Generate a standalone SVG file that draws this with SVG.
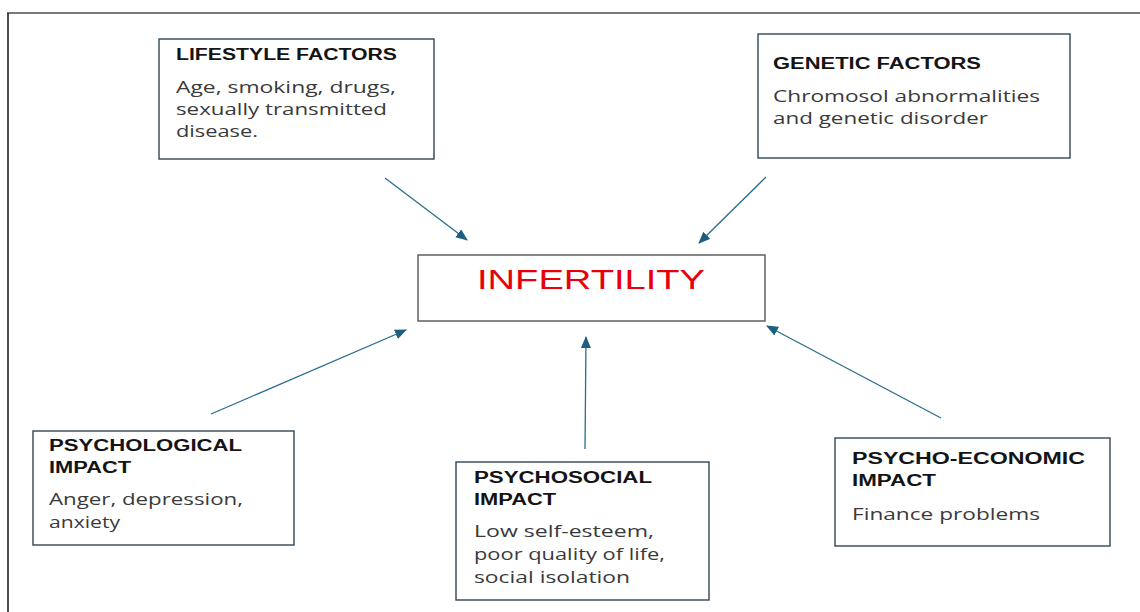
<svg xmlns="http://www.w3.org/2000/svg" width="1140" height="612" viewBox="0 0 1140 612">
<style>
.box{fill:#fff;stroke:#2f4756;stroke-width:1.4}
.title{font-family:"Liberation Sans",Arial,sans-serif;font-weight:bold;font-size:16px;fill:#141414}
.body{font-family:"Open Sans","Liberation Sans",sans-serif;font-size:16.5px;fill:#3a3a3a}
.conn{stroke:#2a6d8e;stroke-width:1.3;fill:none;marker-end:url(#ah)}
</style>
<defs>
<marker id="ah" viewBox="0 0 12 10" refX="11" refY="5" markerWidth="12" markerHeight="10" markerUnits="userSpaceOnUse" orient="auto">
<path d="M0,0 L12,5 L0,10 Z" fill="#1e5f80"/>
</marker>
</defs>
<rect width="1140" height="612" fill="#fff"/>
<g id="frame">
<line x1="7" y1="13" x2="1140" y2="13" stroke="#7a7a7a" stroke-width="2"/>
<line x1="8" y1="13" x2="8" y2="612" stroke="#111" stroke-width="1.5"/>
</g>
<g id="connectors">
<line class="conn" x1="385" y1="178" x2="467" y2="240"/>
<line class="conn" x1="766" y1="177" x2="699" y2="243"/>
<line class="conn" x1="211" y1="414" x2="406" y2="330"/>
<line class="conn" x1="585" y1="449" x2="586" y2="337"/>
<line class="conn" x1="941" y1="418" x2="767" y2="326"/>
</g>
<g id="lifestyle">
<rect class="box" x="159" y="39" width="275" height="120"/>
<text class="title" x="176" y="60" textLength="221" lengthAdjust="spacingAndGlyphs">LIFESTYLE FACTORS</text>
<text class="body" x="176" y="93" textLength="220" lengthAdjust="spacingAndGlyphs">Age, smoking, drugs,</text>
<text class="body" x="176" y="115" textLength="211" lengthAdjust="spacingAndGlyphs">sexually transmitted</text>
<text class="body" x="176" y="137" textLength="82" lengthAdjust="spacingAndGlyphs">disease.</text>
</g>
<g id="genetic">
<rect class="box" x="758" y="34" width="312" height="124"/>
<text class="title" x="773" y="69" textLength="208" lengthAdjust="spacingAndGlyphs">GENETIC FACTORS</text>
<text class="body" x="773" y="102" textLength="267" lengthAdjust="spacingAndGlyphs">Chromosol abnormalities</text>
<text class="body" x="773" y="124" textLength="215" lengthAdjust="spacingAndGlyphs">and genetic disorder</text>
</g>
<g id="infertility">
<rect x="418" y="255" width="347" height="66" fill="#fff" stroke="#555" stroke-width="1.4"/>
<text x="477" y="289" font-family="'Liberation Sans',Arial,sans-serif" font-size="27" fill="#e8000b" textLength="228" lengthAdjust="spacingAndGlyphs">INFERTILITY</text>
</g>
<g id="psychological">
<rect class="box" x="33" y="431" width="261" height="114"/>
<text class="title" x="49" y="451" textLength="193" lengthAdjust="spacingAndGlyphs">PSYCHOLOGICAL</text>
<text class="title" x="49" y="473" textLength="82" lengthAdjust="spacingAndGlyphs">IMPACT</text>
<text class="body" x="49" y="505" textLength="194" lengthAdjust="spacingAndGlyphs">Anger, depression,</text>
<text class="body" x="49" y="528" textLength="71" lengthAdjust="spacingAndGlyphs">anxiety</text>
</g>
<g id="psychosocial">
<rect class="box" x="456" y="462" width="253" height="138"/>
<text class="title" x="474" y="483" textLength="178" lengthAdjust="spacingAndGlyphs">PSYCHOSOCIAL</text>
<text class="title" x="474" y="505" textLength="82" lengthAdjust="spacingAndGlyphs">IMPACT</text>
<text class="body" x="474" y="537" textLength="180" lengthAdjust="spacingAndGlyphs">Low self-esteem,</text>
<text class="body" x="474" y="560" textLength="191" lengthAdjust="spacingAndGlyphs">poor quality of life,</text>
<text class="body" x="474" y="583" textLength="156" lengthAdjust="spacingAndGlyphs">social isolation</text>
</g>
<g id="psychoeconomic">
<rect class="box" x="835" y="438" width="275" height="108"/>
<text class="title" x="852" y="464" textLength="233" lengthAdjust="spacingAndGlyphs">PSYCHO-ECONOMIC</text>
<text class="title" x="852" y="486" textLength="84" lengthAdjust="spacingAndGlyphs">IMPACT</text>
<text class="body" x="852" y="520" textLength="188" lengthAdjust="spacingAndGlyphs">Finance problems</text>
</g>
</svg>
